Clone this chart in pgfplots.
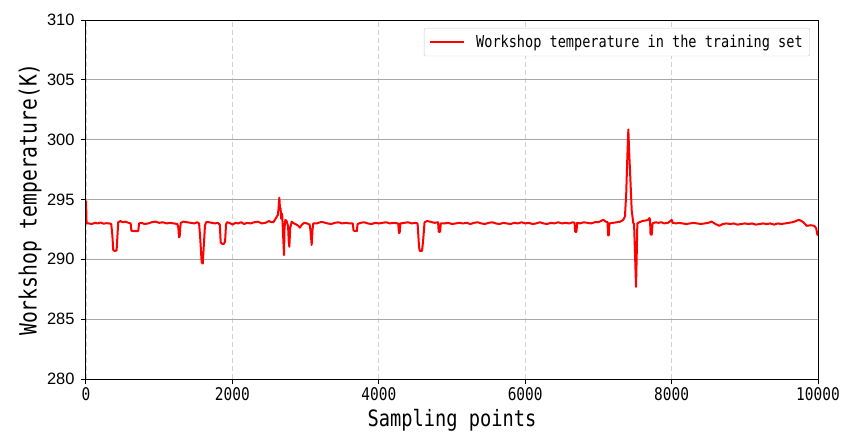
\documentclass[border=0pt]{standalone}
\usepackage{pgfplots}
\pgfplotsset{compat=1.18}
\usepackage{fontspec}
\setmainfont{Liberation Sans}
\newfontfamily\mono{DejaVu Sans Mono}
\newcommand{\mt}[2]{{\fontsize{#1}{#1}\selectfont\mono\scalebox{0.83}[1]{#2}}}
\pgfplotstableread{
x y
0 294.9
8 293.0
40 293.0
80 292.95
120 293.05
160 293.0
200 293.08
240 292.98
280 293.02
320 293.0
345 292.95
360 292.0
373 290.75
395 290.7
418 290.75
430 292.0
440 293.1
470 293.2
500 293.1
540 293.15
580 293.05
610 293.0
620 292.4
650 292.35
700 292.35
715 292.4
725 293.0
760 293.05
800 292.95
850 293.0
900 293.1
950 293.15
1000 293.05
1050 293.1
1100 293.0
1150 293.05
1200 293.0
1250 292.95
1262 292.6
1270 291.85
1280 291.9
1287 292.6
1295 293.05
1330 293.15
1380 293.1
1430 293.05
1480 293.0
1520 293.1
1545 293.0
1560 291.8
1580 289.75
1595 289.65
1610 291.2
1625 292.8
1640 293.1
1680 293.1
1720 293.05
1760 293.0
1800 293.05
1828 292.9
1840 291.4
1860 291.3
1885 291.3
1900 291.5
1913 292.9
1925 293.1
1960 293.05
2004 292.9
2040 293.05
2080 293.0
2120 293.1
2160 292.95
2200 293.05
2250 293.0
2300 293.1
2350 293.15
2400 293.0
2450 293.05
2500 293.2
2530 293.1
2560 293.1
2600 293.5
2620 293.7
2630 294.2
2641 295.15
2650 294.3
2659 294.26
2666 293.4
2680 293.8
2690 292.4
2705 290.36
2712 292.6
2723 293.3
2740 293.2
2760 292.8
2770 291.5
2778 291.05
2790 292.6
2810 293.15
2840 293.0
2877 292.9
2900 292.8
2923 292.65
2950 292.9
2980 293.05
3020 293.0
3055 292.9
3065 292.5
3083 291.2
3095 292.5
3105 293.0
3150 293.0
3200 293.1
3242 293.1
3300 293.0
3350 292.95
3400 293.05
3450 293.1
3500 293.0
3550 293.05
3600 293.0
3645 293.0
3655 292.4
3700 292.35
3710 292.95
3750 293.05
3800 293.1
3850 293.0
3900 292.95
3950 293.05
4000 293.0
4050 293.05
4100 293.1
4150 293.0
4200 293.05
4265 293.0
4275 292.2
4285 292.2
4295 293.0
4350 293.05
4400 293.1
4450 293.0
4500 293.05
4530 293.0
4550 291.0
4560 290.7
4590 290.7
4605 291.5
4625 293.1
4660 293.2
4700 293.15
4760 293.05
4810 293.1
4818 292.3
4838 292.3
4846 293.0
4900 293.0
4950 293.05
5000 292.95
5050 293.0
5100 293.05
5150 293.0
5200 293.05
5250 292.95
5300 293.05
5350 293.1
5400 293.0
5450 292.95
5500 293.05
5550 293.1
5600 293.0
5650 292.95
5700 293.05
5750 293.0
5800 292.95
5850 293.05
5900 293.0
5950 293.1
6000 293.0
6050 293.05
6100 292.95
6150 293.0
6200 293.1
6250 293.0
6300 292.95
6350 293.05
6400 293.0
6450 293.1
6500 293.0
6550 293.05
6600 293.0
6650 293.1
6675 293.05
6683 292.3
6700 292.3
6710 293.05
6750 293.0
6800 293.1
6850 293.05
6900 293.0
6950 293.1
7000 293.1
7067 293.3
7100 293.15
7125 293.1
7132 292.0
7142 292.0
7150 293.0
7200 293.05
7250 293.1
7300 293.15
7340 293.3
7363 293.6
7380 295.5
7395 298.5
7409 300.85
7420 299.0
7432 297.4
7455 294.1
7477 293.0
7487 293.0
7500 290.5
7514 287.7
7524 290.5
7532 293.0
7560 293.1
7600 293.2
7650 293.25
7680 293.3
7696 293.45
7705 293.35
7712 292.1
7728 292.05
7740 293.0
7780 293.1
7820 293.05
7860 293.1
7900 293.0
7950 293.05
7985 293.2
8001 293.3
8015 293.05
8060 293.0
8100 293.05
8150 293.0
8200 292.95
8250 293.0
8300 293.05
8350 293.0
8400 292.95
8450 293.0
8500 293.05
8547 293.15
8600 292.95
8652 292.8
8700 292.95
8750 293.0
8800 292.95
8850 293.0
8900 292.9
8950 292.95
9000 293.0
9050 292.95
9100 293.0
9150 292.9
9200 292.95
9250 293.0
9300 292.95
9350 293.0
9400 292.9
9450 293.0
9500 292.95
9550 293.0
9600 293.05
9650 293.1
9700 293.2
9731 293.3
9760 293.25
9800 293.1
9845 292.8
9900 292.85
9950 292.8
9975 292.6
9990 292.1
10000 292.0
}\temptable
\begin{document}
\begin{tikzpicture}
\begin{axis}[
  scale only axis, width=732bp, height=359bp,
  xmin=0, xmax=10000, ymin=280, ymax=310,
  xtick={0,2000,4000,6000,8000,10000},
  ytick={280,285,290,295,300,305,310},
  scaled x ticks=false, scaled y ticks=false,
  tick align=outside, tick pos=left,
  major tick length=5bp,
  xmajorgrids, ymajorgrids,
  x grid style={color=black!18, line width=0.9bp, dash pattern=on 5bp off 3bp},
  y grid style={color=black!35, line width=1bp},
  axis line style={line width=1bp, black},
  every tick/.style={black, line width=1bp},
  /pgf/number format/1000 sep={},
  /pgf/number format/assume math mode=true,
  xticklabel={\mt{17.5}{\pgfmathprintnumber{\tick}}},
  yticklabel style={font=\fontsize{16.5}{16.5}\selectfont, xshift=-3bp},
  every axis x label/.style={at={(axis description cs:0.5,-0.114)}, anchor=center},
  every axis y label/.style={at={(axis description cs:-0.0765,0.5)}, rotate=90, anchor=center},
  xlabel={\mt{22.6}{Sampling points}},
  ylabel={\mt{23.8}{Workshop temperature(K)}},
  legend style={at={(0.989,0.978)}, anchor=north east, draw=black!20, rounded corners=2bp,
    inner xsep=5bp, inner ysep=5bp, fill=white},
  legend cell align=left,
  legend image code/.code={\draw[#1] (0bp,0bp) -- (34bp,0bp);},
]
\addplot[color=red, line width=2bp, line join=round] table[x=x, y=y] {\temptable};
\addlegendentry{\hspace{9bp}\mt{16.4}{Workshop temperature in the training set}}
\end{axis}
\pgfresetboundingbox
\path[use as bounding box] ([xshift=-86bp,yshift=-53bp]current axis.south west) rectangle ([xshift=24bp,yshift=20bp]current axis.north east);
\end{tikzpicture}
\end{document}
